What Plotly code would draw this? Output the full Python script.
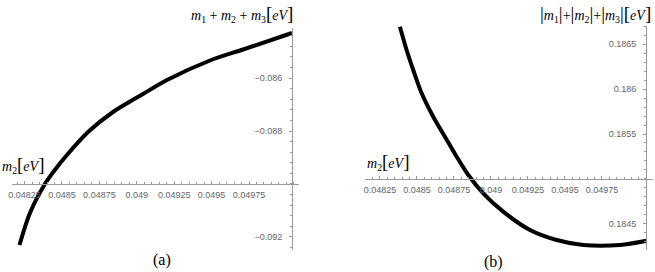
import plotly.graph_objects as go

W, H = 655, 272

# Panel (a): m2 vs m1+m2+m3
m2_a = [0.048216, 0.048286, 0.048386, 0.048447, 0.048533, 0.048674,
        0.048841, 0.049041, 0.049202, 0.049489, 0.049710, 0.050037]
sum_a = [-0.092302, -0.091094, -0.090000, -0.089509, -0.088906, -0.088038,
         -0.087283, -0.086603, -0.086075, -0.085339, -0.084924, -0.084301]

# Panel (b): m2 vs |m1|+|m2|+|m3|
m2_b = [0.048385, 0.048430, 0.048475, 0.048532, 0.048610, 0.048689, 0.048768,
        0.048847, 0.048948, 0.049083, 0.049264, 0.049444, 0.049624, 0.049872, 0.050052]
abs_b = [0.186692, 0.186433, 0.186211, 0.185952, 0.185692, 0.185470, 0.185248,
         0.185044, 0.184841, 0.184637, 0.184433, 0.184322, 0.184267, 0.184267, 0.184314]

x_ticks = [0.04825, 0.0485, 0.04875, 0.049, 0.04925, 0.0495, 0.04975]
x_ticktext = ["0.04825", "0.0485", "0.04875", "0.049", "0.04925", "0.0495", "0.04975"]
ya_ticks = [-0.086, -0.088, -0.092]
ya_ticktext = ["\u22120.086", "\u22120.088", "\u22120.092"]
yb_ticks = [0.1865, 0.186, 0.1855, 0.1845]
yb_ticktext = ["0.1865", "0.186", "0.1855", "0.1845"]

fig = go.Figure()
fig.add_trace(go.Scatter(x=m2_a, y=sum_a, mode="lines", xaxis="x", yaxis="y",
                         line=dict(color="black", width=4, shape="spline", smoothing=0.8),
                         showlegend=False, hoverinfo="skip"))
fig.add_trace(go.Scatter(x=m2_b, y=abs_b, mode="lines", xaxis="x2", yaxis="y2",
                         line=dict(color="black", width=4, shape="spline", smoothing=0.8),
                         showlegend=False, hoverinfo="skip"))

def px(v):
    return v / W

def py(v):
    return 1 - v / H

axis_common = dict(showgrid=False, zeroline=False, showline=True, linecolor="#9a9a9a",
                   linewidth=1, tickcolor="#9a9a9a", ticklen=3, tickwidth=1,
                   tickfont=dict(family="Liberation Sans", size=9, color="#666666"),
                   automargin=False, fixedrange=True)

fig.update_layout(
    width=W, height=H, margin=dict(l=0, r=0, t=0, b=0),
    paper_bgcolor="white", plot_bgcolor="white",
    xaxis=dict(domain=[px(12), px(299)], range=[0.048166, 0.050084], anchor="free",
               position=py(184), tickmode="array", tickvals=x_ticks, ticktext=x_ticktext,
               ticks="inside", ticklabelstandoff=2,
               minor=dict(dtick=0.00005, tick0=0.04825, ticks="inside", ticklen=2,
                          tickcolor="#9a9a9a", showgrid=False),
               **axis_common),
    yaxis=dict(domain=[py(250), py(28)], range=[-0.092491, -0.084113], anchor="free",
               position=px(292), side="left", tickmode="array", tickvals=ya_ticks,
               ticktext=ya_ticktext, ticks="outside", ticklabelstandoff=5,
               minor=dict(dtick=0.0004, tick0=-0.086, ticks="outside", ticklen=2,
                          tickcolor="#9a9a9a", showgrid=False),
               **axis_common),
    xaxis2=dict(domain=[px(365), px(653)], range=[0.048149, 0.050095], anchor="free",
                position=py(179), tickmode="array", tickvals=x_ticks, ticktext=x_ticktext,
                ticks="inside", ticklabelstandoff=2,
                minor=dict(dtick=0.00005, tick0=0.04825, ticks="inside", ticklen=2,
                           tickcolor="#9a9a9a", showgrid=False),
                **axis_common),
    yaxis2=dict(domain=[py(250), py(26)], range=[0.184211, 0.186700], anchor="free",
                position=px(646), side="left", tickmode="array", tickvals=yb_ticks,
                ticktext=yb_ticktext, ticks="outside", ticklabelstandoff=5,
                minor=dict(dtick=0.0001, tick0=0.1845, ticks="outside", ticklen=2,
                           tickcolor="#9a9a9a", showgrid=False),
                **axis_common),
)

serif = "Liberation Serif"
big = "<span style='font-size:19px'>"

def ann(text, x, y, xanchor="center", size=14):
    fig.add_annotation(text=text, x=px(x), y=py(y), xref="paper", yref="paper",
                       xanchor=xanchor, yanchor="middle", showarrow=False,
                       font=dict(family=serif, size=size, color="black"))

bar = big + "|</span>"
ann("<i>m</i><sub>1</sub> + <i>m</i><sub>2</sub> + <i>m</i><sub>3</sub>"
    + big + "[</span><i>eV</i>" + big + "]</span>", 295, 14, xanchor="right")
ann(bar + "<i>m</i><sub>1</sub>" + bar + "+" + bar + "<i>m</i><sub>2</sub>"
    + bar + "+" + bar + "<i>m</i><sub>3</sub>" + bar
    + big + "[</span><i>eV</i>" + big + "]</span>", 653, 14, xanchor="right")
ann("<i>m</i><sub>2</sub>" + big + "[</span><i>eV</i>" + big + "]</span>", 0, 165, xanchor="left")
ann("<i>m</i><sub>2</sub>" + big + "[</span><i>eV</i>" + big + "]</span>", 365, 162, xanchor="left")
ann("(a)", 162, 260, size=16)
ann("(b)", 493, 262, size=16)

fig.write_html("out.html", config={"displayModeBar": False, "staticPlot": True},
               post_script="document.body.style.margin='0';")
